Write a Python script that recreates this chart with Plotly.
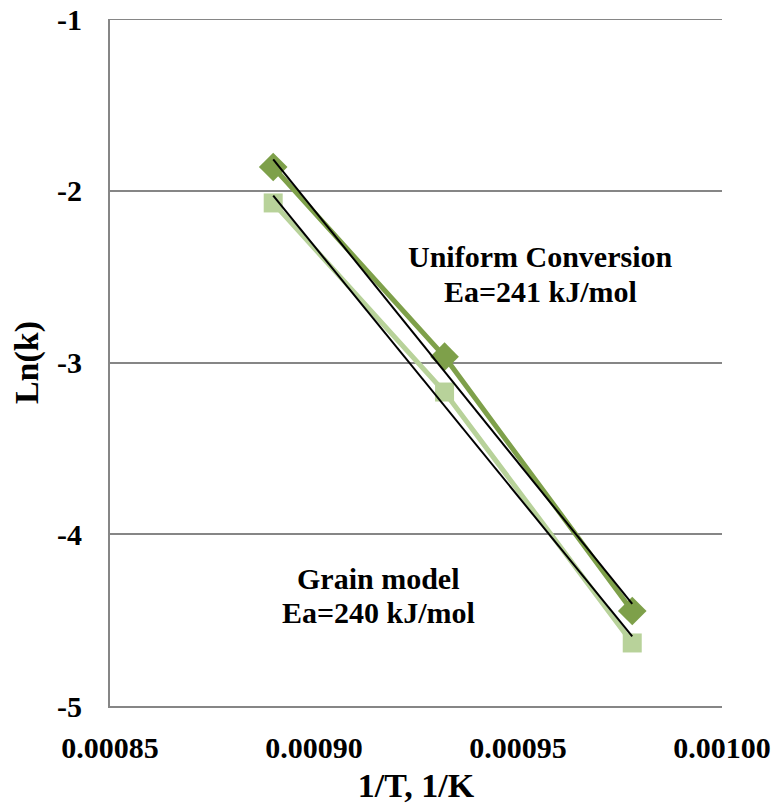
import numpy as np
import plotly.graph_objects as go

inv_T = [0.000890, 0.000932, 0.000978]
ln_k_uniform = [-1.862, -2.966, -4.447]
ln_k_grain = [-2.071, -3.172, -4.633]
x_ticks = [0.00085, 0.00090, 0.00095, 0.00100]
x_tick_labels = ["0.00085", "0.00090", "0.00095", "0.00100"]
y_ticks = [-1, -2, -3, -4, -5]
y_tick_labels = ["-1", "-2", "-3", "-4", "-5"]

FONT = "Liberation Serif"
dark = "#7EA04A"
light = "#B8D29A"
grid = "#868686"

fig = go.Figure()
fig.add_trace(go.Scatter(x=inv_T, y=ln_k_grain, mode="lines+markers",
                         line=dict(color=light, width=5),
                         marker=dict(symbol="square", size=19, color=light),
                         showlegend=False))
fig.add_trace(go.Scatter(x=inv_T, y=ln_k_uniform, mode="lines+markers",
                         line=dict(color=dark, width=5),
                         marker=dict(symbol="diamond", size=22, color=dark),
                         showlegend=False))

xs = np.array(inv_T)
for ys in (ln_k_uniform, ln_k_grain):
    m, b = np.polyfit(xs, np.array(ys), 1)
    fig.add_trace(go.Scatter(x=[xs[0], xs[-1]], y=[m * xs[0] + b, m * xs[-1] + b],
                             mode="lines", line=dict(color="black", width=2),
                             showlegend=False))

labels = [
    ("Uniform Conversion", 0.0009554, -2.380),
    ("Ea=241 kJ/mol", 0.0009554, -2.584),
    ("Grain model", 0.0009157, -4.255),
    ("Ea=240 kJ/mol", 0.0009157, -4.453),
]
for txt, lx, ly in labels:
    fig.add_annotation(x=lx, y=ly, xref="x", yref="y", text="<b>" + txt + "</b>",
                       showarrow=False, font=dict(family=FONT, size=30, color="black"))

# top gridline at y = -1
fig.add_shape(type="line", xref="paper", yref="y", x0=0, x1=1, y0=-1, y1=-1,
              line=dict(color=grid, width=2))

fig.update_layout(
    width=778, height=812,
    margin=dict(l=110, r=56, t=19, b=106, autoexpand=False),
    paper_bgcolor="white", plot_bgcolor="white",
    font=dict(family=FONT, color="black"),
    xaxis=dict(range=[0.00085, 0.00100], tickvals=x_ticks, ticktext=x_tick_labels,
               showgrid=False, zeroline=False, showline=True, linecolor=grid,
               linewidth=2, ticks="", ticklabelstandoff=14, automargin=False,
               ticklabeloverflow="allow",
               tickfont=dict(family=FONT, size=30, color="black", weight="bold"),
               title=dict(text="<b>1/T, 1/K</b>", font=dict(family=FONT, size=34),
                          standoff=10)),
    yaxis=dict(range=[-5, -1], tickvals=y_ticks, ticktext=y_tick_labels,
               showgrid=True, gridcolor=grid, gridwidth=2,
               zeroline=False, showline=True, linecolor=grid, linewidth=2,
               ticks="", ticklabelstandoff=20, automargin=False,
               ticklabeloverflow="allow",
               tickfont=dict(family=FONT, size=30, color="black", weight="bold"),
               title=dict(text="<b>Ln(k)</b>", font=dict(family=FONT, size=34),
                          standoff=8)),
)

fig.write_html("out.html", config={"displayModeBar": False},
               post_script="document.body.style.margin='0';document.body.style.overflow='hidden';")
